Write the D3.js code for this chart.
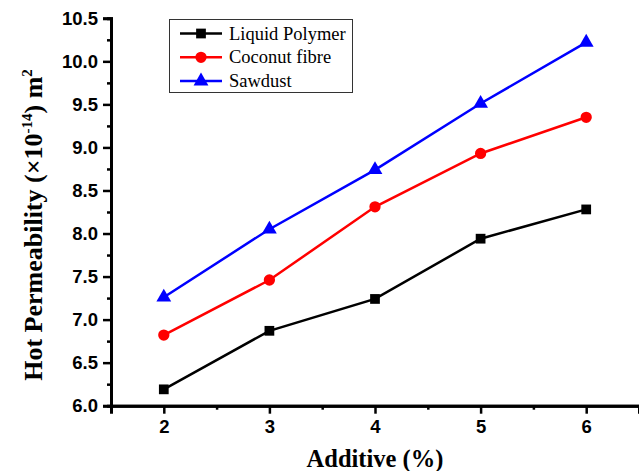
<!DOCTYPE html>
<html>
<head>
<meta charset="utf-8">
<script src="https://cdn.jsdelivr.net/npm/d3@7"></script>
<style>
  html, body { margin: 0; padding: 0; background: #fff; }
  svg { display: block; }
</style>
</head>
<body>
<div id="chart"></div>
<script>
(function () {
  "use strict";

  // additive (%) on x, hot permeability (x10^-14 m^2) on y
  let additive = [2, 3, 4, 5, 6]
  let liquidPolymer = [6.19, 6.87, 7.24, 7.94, 8.28]
  let coconutFibre = [6.82, 7.46, 8.31, 8.93, 9.35]
  let sawdust = [7.26, 8.05, 8.74, 9.51, 10.22]
  let seriesNames = ['Liquid Polymer', 'Coconut fibre', 'Sawdust']
  let yTicks = [6.0, 6.5, 7.0, 7.5, 8.0, 8.5, 9.0, 9.5, 10.0, 10.5]
  let xTicks = [2, 3, 4, 5, 6]

  let width = 639, height = 471

  let svg = d3.select('#chart').append('svg')
    .attr('width', width)
    .attr('height', height)

  let x = d3.scaleLinear().domain([1.5, 6.5]).range([111, 639])
  let y = d3.scaleLinear().domain([6.0, 10.5]).range([405.7, 18.3])

  let series = [
    {name: seriesNames[0], values: liquidPolymer, color: '#000000', shape: d3.symbolSquare},
    {name: seriesNames[1], values: coconutFibre, color: '#ff0000', shape: d3.symbolCircle},
    {name: seriesNames[2], values: sawdust, color: '#0000ff', shape: d3.symbolTriangle}
  ]

  function symbolSize(shape){
    if (shape === d3.symbolSquare) return 95
    if (shape === d3.symbolCircle) return 100
    return 95
  }

  // axes
  let xAxis = d3.axisBottom(x)
    .tickValues(xTicks)
    .tickFormat(d3.format('d'))
    .tickSize(8)
    .tickPadding(6)
  let xMinor = d3.axisBottom(x)
    .tickValues([1.5, 2.5, 3.5, 4.5, 5.5])
    .tickFormat('')
    .tickSize(4)

  let yAxis = d3.axisLeft(y)
    .tickValues(yTicks)
    .tickFormat(d3.format('.1f'))
    .tickSize(8)
    .tickPadding(5)
  let yMinor = d3.axisLeft(y)
    .tickValues(d3.range(6.25, 10.5, 0.5))
    .tickFormat('')
    .tickSize(4)

  function styleAxis(g){
    g.select('.domain').attr('stroke', '#000').attr('stroke-width', 3)
    g.selectAll('.tick line').attr('stroke', '#000').attr('stroke-width', 2.5)
    g.selectAll('.tick text')
      .attr('fill', '#000')
      .style('font-family', 'Arial, "Liberation Sans", sans-serif')
      .style('font-weight', 'bold')
      .style('font-size', '18.5px')
  }

  svg.append('g').attr('transform', `translate(0,${y(6.0)})`).call(xMinor).call(styleAxis)
  svg.append('g').attr('transform', `translate(0,${y(6.0)})`).call(xAxis).call(styleAxis)
  svg.append('g').attr('transform', `translate(${x(1.5)},0)`).call(yMinor).call(styleAxis)
  svg.append('g').attr('transform', `translate(${x(1.5)},0)`).call(yAxis).call(styleAxis)

  // lines and markers
  let line = d3.line()
    .x(function(d, i){ return x(additive[i]) })
    .y(function(d){ return y(d) })

  series.forEach(function(s){
    svg.append('path')
      .datum(s.values)
      .attr('fill', 'none')
      .attr('stroke', s.color)
      .attr('stroke-width', 2.5)
      .attr('d', line)

    svg.selectAll(null)
      .data(s.values)
      .enter()
      .append('path')
      .attr('d', d3.symbol().type(s.shape).size(symbolSize(s.shape)))
      .attr('transform', function(d, i){ return `translate(${x(additive[i])},${y(d)})` })
      .attr('fill', s.color)
  })

  // legend
  let legend = svg.append('g')
  legend.append('rect')
    .attr('x', 169.5).attr('y', 19.5)
    .attr('width', 183).attr('height', 73)
    .attr('fill', '#fff')
    .attr('stroke', '#333')
    .attr('stroke-width', 1)

  series.forEach(function(s, i){
    let cy = 33.5 + i * 23.8
    legend.append('line')
      .attr('x1', 180).attr('x2', 222)
      .attr('y1', cy).attr('y2', cy)
      .attr('stroke', s.color)
      .attr('stroke-width', 2.5)
    legend.append('path')
      .attr('d', d3.symbol().type(s.shape).size(symbolSize(s.shape)))
      .attr('transform', `translate(201,${cy})`)
      .attr('fill', s.color)
    legend.append('text')
      .attr('x', 229).attr('y', cy + 6)
      .style('font-family', '"Times New Roman", "Liberation Serif", serif')
      .style('font-size', '18.5px')
      .attr('fill', '#000')
      .text(s.name)
  })

  // axis titles
  let titleFont = '"Times New Roman", "Liberation Serif", serif'

  svg.append('text')
    .attr('x', 375).attr('y', 467)
    .attr('text-anchor', 'middle')
    .style('font-family', titleFont)
    .style('font-weight', 'bold')
    .style('font-size', '24.5px')
    .attr('fill', '#000')
    .text('Additive (%)')

  let yTitle = svg.append('text')
    .attr('transform', 'translate(42,225) rotate(-90)')
    .attr('text-anchor', 'middle')
    .style('font-family', titleFont)
    .style('font-weight', 'bold')
    .style('font-size', '26px')
    .attr('fill', '#000')
  yTitle.append('tspan').text('Hot Permeability (\u00d710')
  yTitle.append('tspan').attr('dy', -10).style('font-size', '15px').text('-14')
  yTitle.append('tspan').attr('dy', 10).text(') m')
  yTitle.append('tspan').attr('dy', -10).style('font-size', '15px').text('2')

}());
</script>
</body>
</html>
